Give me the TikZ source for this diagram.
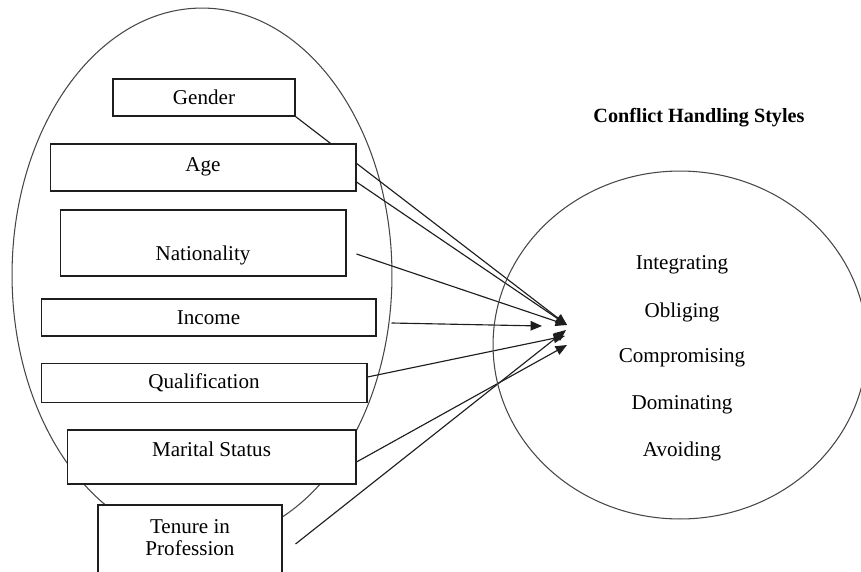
\documentclass[tikz,border=0pt]{standalone}
\usepackage{fontspec}
\setmainfont{Liberation Serif}
\usetikzlibrary{arrows.meta,calc}
\definecolor{chedge}{RGB}{30,30,30}
\definecolor{chring}{RGB}{70,70,70}
\tikzset{
  varbox/.style={
    draw=chedge, fill=white, line width=0.6pt, inner sep=2pt,
    align=center, font=\fontsize{12}{12.5}\selectfont
  },
  ring/.style={draw=chring, line width=0.6pt},
  arr/.style={-{Triangle[length=6.5pt,width=5.4pt]}, draw=chedge, line width=0.65pt},
  sty/.style={font=\fontsize{12}{14}\selectfont},
  hd/.style={font=\fontsize{11.5}{14}\selectfont\bfseries}
}

\begin{document}
\begin{tikzpicture}[x=0.02cm, y=-0.02cm]
  \clip (0,0) rectangle (861,571);

  % demographic factors
  \draw[ring] (202,275) ellipse [x radius=3.8cm, y radius=5.34cm];
  \coordinate (tip) at (567,325);
  \node[varbox, minimum width=3.64cm, minimum height=0.74cm] (gen) at (204,97.5) {Gender};
  \draw[arr] (gen.south east) -- (tip);
  \node[varbox, minimum width=6.12cm, minimum height=0.94cm, text depth=3.2pt] (age) at (203,167.5) {Age};
  \node[varbox, minimum width=5.72cm, minimum height=1.32cm, text height=23pt] (nat) at (203,243) {Nationality};
  \node[varbox, minimum width=6.7cm, minimum height=0.74cm] (inc) at (208.5,317.5) {Income};
  \node[varbox, minimum width=6.52cm, minimum height=0.78cm] (qual) at (204,383) {Qualification};
  \node[varbox, minimum width=5.78cm, minimum height=1.08cm, text depth=8.4pt] (mar) at (211.5,457) {Marital Status};
  \node[varbox, minimum width=3.68cm, minimum height=1.8cm, text depth=14pt] (ten) at (190,550) {Tenure in\\Profession};

  % arrows into the styles
  \coordinate (tipinc) at (542,326);
  \coordinate (tipq) at (565,336);
  \coordinate (tipm) at (567,345);
  \coordinate (tipt) at (566,330);
  \draw[arr] ($(age.east)+(0,14.5)$) -- (tip);
  \draw[arr] ($(nat.east)+(10,11)$) -- (tip);
  \draw[arr] ($(inc.east)+(15,5.5)$) -- (tipinc);
  \draw[arr] ($(qual.east)+(0,-6)$) -- (tipq);
  \draw[arr] ($(mar.east)+(0,5)$) -- (tipm);
  \draw[arr] ($(ten.east)+(13,-6)$) -- (tipt);

  % conflict handling styles
  \node[hd] (title) at (699,118) {Conflict Handling Styles};
  \draw[ring] (680,345) ellipse [x radius=3.74cm, y radius=3.48cm];
  \node[sty] (integ) at (682,265) {Integrating};
  \node[sty] (oblig) at (682,312) {Obliging};
  \node[sty] (compr) at (682,358) {Compromising};
  \node[sty] (domin) at (682,405) {Dominating};
  \node[sty] (avoid) at (682,451) {Avoiding};
\end{tikzpicture}
\end{document}
